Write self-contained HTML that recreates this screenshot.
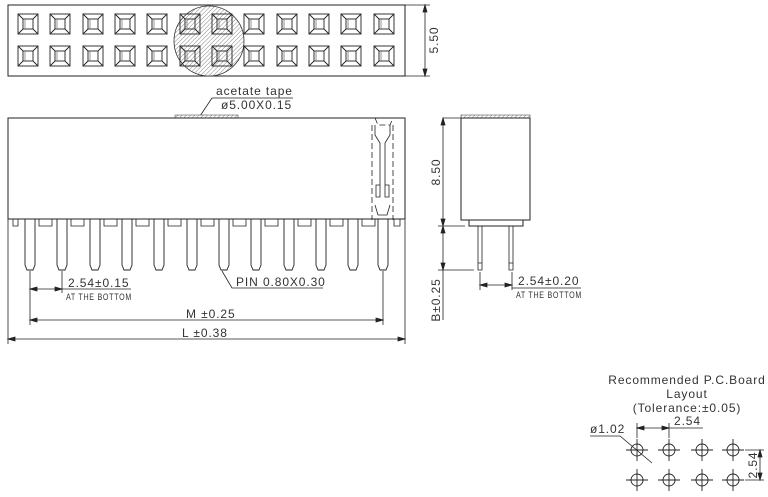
<!DOCTYPE html>
<html><head><meta charset="utf-8"><style>
html,body{margin:0;padding:0;background:#fff;}
svg{display:block;}
text{font-family:"Liberation Sans",sans-serif;fill:#333;letter-spacing:0.9px;}
</style></head><body>
<svg width="768" height="497" viewBox="0 0 768 497" xmlns="http://www.w3.org/2000/svg">
<defs>
<pattern id="h" width="3" height="3" patternUnits="userSpaceOnUse" patternTransform="rotate(45)">
<rect width="3" height="3" fill="#fff"/><line x1="0" y1="0" x2="0" y2="3" stroke="#777" stroke-width="0.9"/>
</pattern>
<g id="sq" fill="none" stroke="#222" stroke-width="0.9">
<rect x="0" y="0" width="20" height="20"/><rect x="5" y="5" width="10" height="10"/>
<line x1="0" y1="0" x2="5" y2="5"/><line x1="20" y1="0" x2="15" y2="5"/><line x1="0" y1="20" x2="5" y2="15"/><line x1="20" y1="20" x2="15" y2="15"/>
<line x1="7" y1="5" x2="7" y2="15" stroke="#888"/>
</g>
<g id="pin" fill="none" stroke="#222" stroke-width="0.9">
<path d="M-5 0 V46 L-3 51 H3 L5 46 V0"/>
</g>
<g id="hole" fill="none" stroke="#222" stroke-width="0.9">
<circle r="6"/><line x1="-11" y1="0" x2="11" y2="0"/><line x1="0" y1="-11" x2="0" y2="11"/>
</g>
</defs>
<g stroke="#222" fill="none" stroke-width="1">
<rect x="8" y="5" width="397" height="71"/>
</g>
<circle cx="209" cy="41" r="35" fill="url(#h)" stroke="#333" stroke-width="0.8"/>
<g>
<use href="#sq" x="18" y="14"/><use href="#sq" x="50" y="14"/><use href="#sq" x="83" y="14"/><use href="#sq" x="115" y="14"/><use href="#sq" x="147" y="14"/><use href="#sq" x="180" y="14"/><use href="#sq" x="212" y="14"/><use href="#sq" x="244" y="14"/><use href="#sq" x="277" y="14"/><use href="#sq" x="309" y="14"/><use href="#sq" x="341" y="14"/><use href="#sq" x="374" y="14"/>
<use href="#sq" x="18" y="46"/><use href="#sq" x="50" y="46"/><use href="#sq" x="83" y="46"/><use href="#sq" x="115" y="46"/><use href="#sq" x="147" y="46"/><use href="#sq" x="180" y="46"/><use href="#sq" x="212" y="46"/><use href="#sq" x="244" y="46"/><use href="#sq" x="277" y="46"/><use href="#sq" x="309" y="46"/><use href="#sq" x="341" y="46"/><use href="#sq" x="374" y="46"/>
</g>
<g stroke="#222" fill="none" stroke-width="0.8">
<line x1="405" y1="5" x2="430" y2="5"/><line x1="405" y1="76" x2="430" y2="76"/>
<line x1="425" y1="5" x2="425" y2="76"/>
<path d="M425 5 l-2 7 h4z M425 76 l-2 -7 h4z" fill="#222"/>
</g>
<text transform="translate(438,40) rotate(-90)" font-size="12" text-anchor="middle">5.50</text>

<text x="216" y="95" font-size="12" letter-spacing="1.6">acetate  tape</text>
<text x="221" y="109" font-size="12" letter-spacing="1.3">ø5.00X0.15</text>
<g stroke="#222" stroke-width="0.8" fill="none">
<line x1="212" y1="98" x2="293" y2="98"/><line x1="212" y1="98" x2="200" y2="116"/>
</g>
<rect x="175" y="115" width="63" height="3" fill="url(#h)" stroke="#333" stroke-width="0.5"/>

<g stroke="#222" fill="none" stroke-width="1">
<rect x="8" y="118" width="397" height="101"/>
</g>
<g stroke="#222" fill="none" stroke-width="0.8">
<path d="M13 219 v7 h5 v-7 M39 219 v7 h13 v-7 M71 219 v7 h13 v-7 M104 219 v7 h13 v-7 M136 219 v7 h13 v-7 M168 219 v7 h13 v-7 M201 219 v7 h13 v-7 M233 219 v7 h13 v-7 M265 219 v7 h13 v-7 M298 219 v7 h13 v-7 M330 219 v7 h13 v-7 M362 219 v7 h13 v-7 M394 219 v7 h6 v-7"/>
<path d="M375 118 l3 7 h12 l3 -7 M372 125 v95 M393 125 v95" stroke-dasharray="6 3"/>
<path d="M375 125 v10 l5 8 v50 M390 125 v10 l-5 8 v50 M376 185 h4 v12 h-4z M385 185 h4 v12 h-4z M375 205 l3 10 h9 l3 -10"/>
</g>
<g>
<use href="#pin" x="30" y="219"/><use href="#pin" x="62" y="219"/><use href="#pin" x="95" y="219"/><use href="#pin" x="127" y="219"/><use href="#pin" x="159" y="219"/><use href="#pin" x="192" y="219"/><use href="#pin" x="224" y="219"/><use href="#pin" x="256" y="219"/><use href="#pin" x="289" y="219"/><use href="#pin" x="321" y="219"/><use href="#pin" x="353" y="219"/><use href="#pin" x="383" y="219"/>
</g>
<g stroke="#222" fill="none" stroke-width="0.8">
<line x1="30" y1="271" x2="30" y2="325"/><line x1="62" y1="271" x2="62" y2="293"/><line x1="383" y1="271" x2="383" y2="325"/>
<line x1="30" y1="289" x2="62" y2="289"/><line x1="62" y1="289" x2="131" y2="289"/>
<line x1="8" y1="219" x2="8" y2="344"/><line x1="405" y1="219" x2="405" y2="344"/>
<line x1="30" y1="320" x2="383" y2="320"/><line x1="8" y1="339" x2="405" y2="339"/>
<path d="M222 271 L232 288 H323"/>
<path d="M30 289 l7 -2 v4z M62 289 l-7 -2 v4z M30 320 l7 -2 v4z M383 320 l-7 -2 v4z M8 339 l7 -2 v4z M405 339 l-7 -2 v4z" fill="#222"/>
</g>
<text x="68" y="287" font-size="12" letter-spacing="1.2">2.54±0.15</text>
<text x="66" y="300" font-size="9" textLength="66" lengthAdjust="spacingAndGlyphs" letter-spacing="0">AT THE BOTTOM</text>
<text x="236" y="286" font-size="12" letter-spacing="1.3">PIN  0.80X0.30</text>
<text x="186" y="318" font-size="12" letter-spacing="1.3">M  ±0.25</text>
<text x="182" y="337" font-size="12" letter-spacing="1.3">L  ±0.38</text>

<rect x="461" y="115" width="69" height="3" fill="url(#h)" stroke="#333" stroke-width="0.5"/>
<g stroke="#222" fill="none" stroke-width="1">
<rect x="461" y="118" width="69" height="102"/>
<rect x="469" y="220" width="54" height="6"/>
</g>
<g stroke="#222" fill="none" stroke-width="0.8">
<path d="M478 226 V263 H482 V226 M478 263 V270 H482 V263"/>
<path d="M509 226 V263 H513 V226 M509 263 V270 H513 V263"/>
<line x1="443" y1="118" x2="461" y2="118"/><line x1="438" y1="226" x2="465" y2="226"/><line x1="438" y1="270" x2="474" y2="270"/>
<line x1="443" y1="118" x2="443" y2="320"/>
<path d="M443 118 l-2 7 h4z M443 226 l-2 -7 h4z M443 226 l-2 7 h4z M443 270 l-2 -7 h4z" fill="#222"/>
<line x1="480" y1="272" x2="480" y2="290"/><line x1="512" y1="272" x2="512" y2="290"/>
<line x1="480" y1="285" x2="512" y2="285"/><line x1="512" y1="288" x2="581" y2="288"/>
<path d="M480 285 l7 -2 v4z M512 285 l-7 -2 v4z" fill="#222"/>
</g>
<text transform="translate(440,172) rotate(-90)" font-size="12" text-anchor="middle">8.50</text>
<text transform="translate(440,300) rotate(-90)" font-size="12" text-anchor="middle">B±0.25</text>
<text x="518" y="285" font-size="12" letter-spacing="1.2">2.54±0.20</text>
<text x="516" y="298" font-size="9" textLength="66" lengthAdjust="spacingAndGlyphs" letter-spacing="0">AT THE BOTTOM</text>

<text x="687" y="384" font-size="12" text-anchor="middle">Recommended  P.C.Board</text>
<text x="687" y="398" font-size="12" text-anchor="middle">Layout</text>
<text x="687" y="412" font-size="12" text-anchor="middle">(Tolerance:±0.05)</text>
<g>
<use href="#hole" x="637" y="450"/><use href="#hole" x="669" y="450"/><use href="#hole" x="702" y="450"/><use href="#hole" x="733" y="450"/>
<use href="#hole" x="637" y="480"/><use href="#hole" x="669" y="480"/><use href="#hole" x="702" y="480"/><use href="#hole" x="733" y="480"/>
</g>
<g stroke="#222" fill="none" stroke-width="0.8">
<line x1="637" y1="423" x2="637" y2="438"/><line x1="669" y1="423" x2="669" y2="438"/>
<line x1="637" y1="428" x2="669" y2="428"/><line x1="669" y1="428" x2="703" y2="428"/>
<path d="M637 428 l7 -2 v4z M669 428 l-7 -2 v4z" fill="#222"/>
<path d="M590 436 H620 L652 463"/>
<line x1="745" y1="450" x2="764" y2="450"/><line x1="745" y1="480" x2="764" y2="480"/>
<line x1="760" y1="450" x2="760" y2="480"/>
<path d="M760 450 l-2 7 h4z M760 480 l-2 -7 h4z" fill="#222"/>
</g>
<text x="674" y="425" font-size="12">2.54</text>
<text x="590" y="433" font-size="12">ø1.02</text>
<text transform="translate(757,465) rotate(-90)" font-size="12" text-anchor="middle">2.54</text>
</svg>
</body></html>
